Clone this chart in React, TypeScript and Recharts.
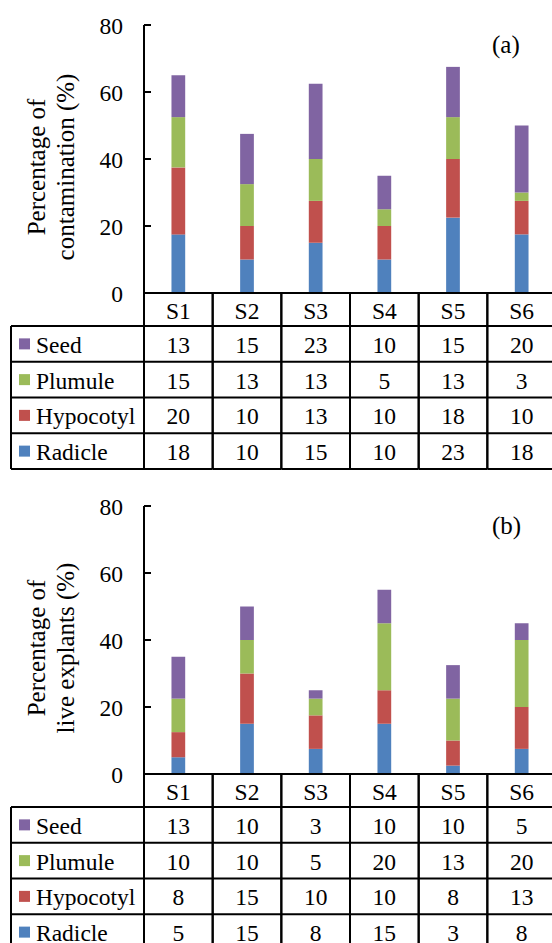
import { Bar, BarChart, XAxis, YAxis } from "recharts";

const sites = ["S1", "S2", "S3", "S4", "S5", "S6"];
const parts = ["Radicle", "Hypocotyl", "Plumule", "Seed"];
const partColors = ["#4f81bd", "#c0504d", "#9bbb59", "#8064a2"];
const yTicks = [0, 20, 40, 60, 80];

// (a) percentage of contamination
const contRadicle = [17.5, 10, 15, 10, 22.5, 17.5];
const contHypocotyl = [20, 10, 12.5, 10, 17.5, 10];
const contPlumule = [15, 12.5, 12.5, 5, 12.5, 2.5];
const contSeed = [12.5, 15, 22.5, 10, 15, 20];

// (b) percentage of live explants
const liveRadicle = [5, 15, 7.5, 15, 2.5, 7.5];
const liveHypocotyl = [7.5, 15, 10, 10, 7.5, 12.5];
const livePlumule = [10, 10, 5, 20, 12.5, 20];
const liveSeed = [12.5, 10, 2.5, 10, 10, 5];

const FONT = "Liberation Serif, Times New Roman, serif";
const FS = 23.5;
const CHART_W = 560;
const Y_W = 144;
const M_RIGHT = 4;
const BAND = (CHART_W - Y_W - M_RIGHT) / sites.length;
const HEAD_H = 33;
const ROW_H = 35.75;
const TABLE_LEFT = 11;

type Row = { name: string; color: string; values: number[] };

const txt = { fontFamily: FONT, fontSize: FS, fill: "#000" };

function buildData(series: number[][]) {
  return sites.map((s, i) => {
    const d: Record<string, any> = { site: s };
    parts.forEach((p, k) => (d[p] = series[k][i]));
    return d;
  });
}

function buildRows(series: number[][]): Row[] {
  // table lists the parts top to bottom in reverse stack order
  return parts
    .map((p, k) => ({ name: p, color: partColors[k], values: series[k] }))
    .reverse();
}

function TableColumn(props: any) {
  const { x, y, payload, index, rows } = props;
  const xl = x - BAND / 2;
  const xr = x + BAND / 2;
  const H = HEAD_H + ROW_H * rows.length;
  const ln = { stroke: "#000", strokeWidth: 2 };
  return (
    <g>
      <line x1={xl} x2={xl} y1={y} y2={y + H} {...ln} />
      <line x1={xr} x2={xr} y1={y} y2={y + H} {...ln} />
      <text x={x} y={y + HEAD_H / 2 + 1} textAnchor="middle" dominantBaseline="central" style={txt}>
        {payload.value}
      </text>
      {rows.map((r: Row, k: number) => {
        const top = y + HEAD_H + k * ROW_H;
        return (
          <g key={r.name}>
            <line x1={xl} x2={xr} y1={top} y2={top} {...ln} />
            <text x={x} y={top + ROW_H / 2 + 1} textAnchor="middle" dominantBaseline="central" style={txt}>
              {Math.round(r.values[index])}
            </text>
          </g>
        );
      })}
      <line x1={xl} x2={xr} y1={y + H} y2={y + H} {...ln} />
      {index === 0 && (
        <g>
          <line x1={TABLE_LEFT} x2={TABLE_LEFT} y1={y + HEAD_H} y2={y + H} {...ln} />
          {rows.map((r: Row, k: number) => {
            const top = y + HEAD_H + k * ROW_H;
            return (
              <g key={r.name}>
                <line x1={TABLE_LEFT} x2={xl} y1={top} y2={top} {...ln} />
                <rect x={19} y={top + ROW_H / 2 - 5.5} width={11} height={11} fill={r.color} />
                <text x={36} y={top + ROW_H / 2 + 1} dominantBaseline="central" style={txt}>
                  {r.name}
                </text>
              </g>
            );
          })}
          <line x1={TABLE_LEFT} x2={xl} y1={y + H} y2={y + H} {...ln} />
        </g>
      )}
    </g>
  );
}

function YTick(props: any) {
  const { x, y, payload } = props;
  return (
    <g>
      <line x1={x} x2={x + 7} y1={y} y2={y} stroke="#000" strokeWidth={2} />
      <text x={x - 21} y={y + 1} textAnchor="end" dominantBaseline="central" style={txt}>
        {payload.value}
      </text>
    </g>
  );
}

function Panel({ series, title, tag, top }: { series: number[][]; title: string[]; tag: string; top: number }) {
  const data = buildData(series);
  const rows = buildRows(series);
  return (
    <div style={{ position: "absolute", left: 0, top }}>
      <BarChart width={CHART_W} height={471} data={data}
        margin={{ top: 25, right: M_RIGHT, bottom: 2, left: 0 }} barCategoryGap="60%">
        <XAxis dataKey="site" height={HEAD_H + ROW_H * 4} interval={0}
          axisLine={{ stroke: "#000", strokeWidth: 2 }} tickLine={false}
          tickSize={0} tickMargin={0}
          tick={(p: any) => <TableColumn {...p} rows={rows} />} />
        <YAxis type="number" domain={[0, 80]} ticks={yTicks} width={Y_W}
          axisLine={{ stroke: "#000", strokeWidth: 2 }} tickLine={false}
          tickSize={0} tickMargin={0} tick={(p: any) => <YTick {...p} />}
          label={(p: any) => {
            const vb = p.viewBox || {};
            const cy = (vb.y ?? 25) + (vb.height ?? 268) / 2 + 8;
            return (
              <g>
                {title.map((t, i) => {
                  const cx = 36 + i * 29;
                  return (
                    <text key={t} x={cx} y={cy} textAnchor="middle" dominantBaseline="central"
                      transform={`rotate(-90, ${cx}, ${cy})`}
                      style={{ fontFamily: FONT, fontSize: 25, fill: "#000" }}>
                      {t}
                    </text>
                  );
                })}
              </g>
            );
          }} />
        {parts.map((p, k) => (
          <Bar key={p} dataKey={p} stackId="s" fill={partColors[k]} isAnimationActive={false} />
        ))}
      </BarChart>
      <div style={{ position: "absolute", left: 492, top: 30, fontFamily: FONT, fontSize: 25, lineHeight: "30px" }}>
        {tag}
      </div>
    </div>
  );
}

export default function App() {
  return (
    <div style={{ position: "absolute", left: 0, top: 0, width: 552, height: 943, overflow: "hidden", background: "#fff" }}>
      <Panel series={[contRadicle, contHypocotyl, contPlumule, contSeed]}
        title={["Percentage of", "contamination (%)"]} tag="(a)" top={0} />
      <Panel series={[liveRadicle, liveHypocotyl, livePlumule, liveSeed]}
        title={["Percentage of", "live explants (%)"]} tag="(b)" top={481} />
    </div>
  );
}
